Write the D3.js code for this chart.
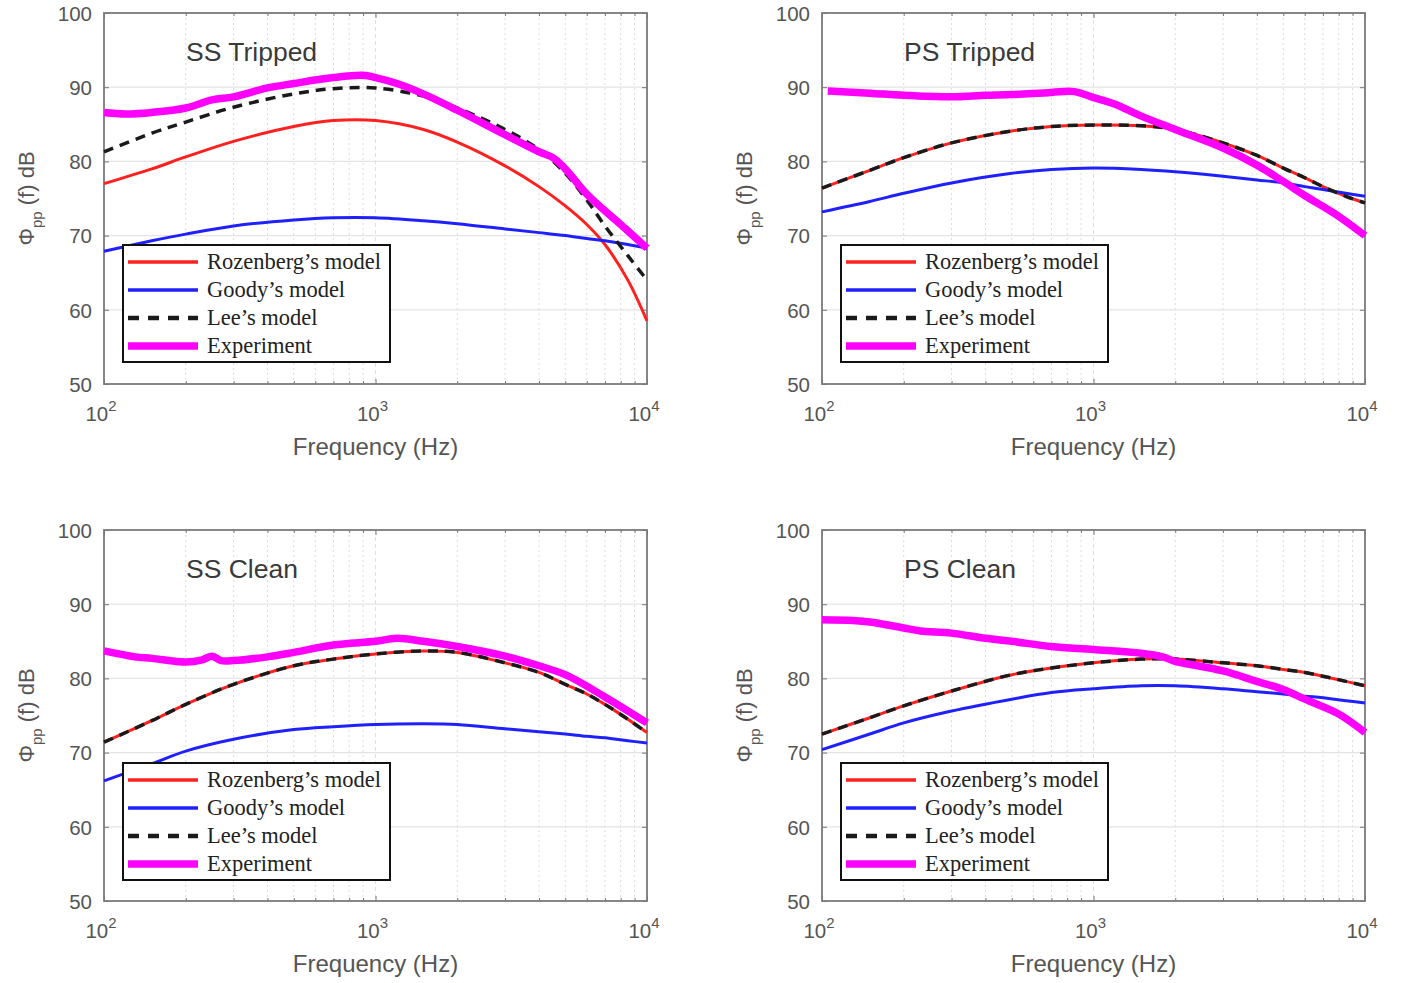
<!DOCTYPE html>
<html><head><meta charset="utf-8">
<script src="https://cdn.jsdelivr.net/npm/d3@7"></script>
<style>body{margin:0;background:#fff}</style>
</head><body><svg id="c" width="1401" height="983"></svg>
<script>
// ---- data ----
const seriesNames = ["Rozenberg’s model", "Goody’s model", "Lee’s model", "Experiment"];
const panelTitles = ["SS Tripped", "PS Tripped", "SS Clean", "PS Clean"];
const yTicks = [50, 60, 70, 80, 90, 100];
const xTicks = [100, 1000, 10000];
const modelFreq = [100,150,200,300,500,700,1000,1500,2000,3000,4000,5000,6000,7000,8500,10000];

const ssTrippedRoz  = [77.0,79.0,80.6,82.7,84.7,85.5,85.5,84.3,82.6,79.4,76.6,74.0,71.5,68.8,64.0,58.5];
const ssTrippedGoody= [67.9,69.3,70.2,71.3,72.1,72.4,72.4,72.0,71.6,70.9,70.4,70.0,69.6,69.3,68.8,68.3];
const ssTrippedLee  = [81.3,83.8,85.3,87.3,89.1,89.8,89.9,88.8,87.2,84.3,81.6,78.4,74.8,71.3,67.3,64.0];
const ssTrippedExpF = [100,120,150,200,250,300,400,500,700,900,1000,1200,1500,2000,3000,4000,4500,5000,6000,8000,10000];
const ssTrippedExp  = [86.6,86.4,86.6,87.2,88.3,88.7,89.9,90.5,91.3,91.6,91.3,90.5,89.1,86.9,83.6,81.3,80.5,79.0,75.6,71.5,68.3];

const psTrippedRoz  = [76.4,78.8,80.5,82.5,84.1,84.7,84.9,84.8,84.3,82.5,80.8,79.1,77.8,76.6,75.3,74.4];
const psTrippedGoody= [73.2,74.6,75.7,77.1,78.4,78.9,79.1,78.9,78.6,78.0,77.5,77.1,76.6,76.2,75.7,75.3];
const psTrippedLee  = [76.4,78.8,80.5,82.5,84.1,84.7,84.9,84.8,84.3,82.5,80.8,79.1,77.8,76.6,75.3,74.4];
const psTrippedExpF = [105,150,200,300,400,500,700,850,1000,1200,1500,2000,3000,4000,5000,6000,8000,10000];
const psTrippedExp  = [89.5,89.2,88.9,88.7,88.9,89.0,89.3,89.4,88.6,87.7,86.1,84.3,81.8,79.5,77.3,75.4,72.6,70.0];

const ssCleanRoz    = [71.4,74.3,76.5,79.2,81.7,82.6,83.3,83.7,83.5,82.1,80.8,79.2,77.9,76.5,74.5,72.7];
const ssCleanGoody  = [66.2,68.5,70.2,71.8,73.1,73.5,73.8,73.9,73.8,73.2,72.8,72.5,72.2,72.0,71.6,71.3];
const ssCleanLee    = [71.4,74.3,76.5,79.2,81.7,82.6,83.3,83.7,83.5,82.1,80.8,79.2,77.9,76.5,74.5,72.7];
const ssCleanExpF   = [100,130,150,200,230,250,270,300,400,500,700,1000,1200,1500,2000,3000,4000,5000,7000,10000];
const ssCleanExp    = [83.7,82.9,82.7,82.2,82.5,83.0,82.4,82.4,82.9,83.5,84.5,85.0,85.4,85.0,84.3,83.0,81.7,80.5,77.5,74.0];

const psCleanRoz    = [72.5,74.7,76.3,78.3,80.5,81.4,82.1,82.6,82.6,82.1,81.7,81.2,80.8,80.3,79.6,79.0];
const psCleanGoody  = [70.4,72.5,74.0,75.6,77.2,78.1,78.6,79.0,79.0,78.6,78.2,77.9,77.6,77.4,77.0,76.7];
const psCleanLee    = [72.5,74.7,76.3,78.3,80.5,81.4,82.1,82.6,82.6,82.1,81.7,81.2,80.8,80.3,79.6,79.0];
const psCleanExpF   = [100,130,150,200,230,300,400,500,700,1000,1500,1800,2000,2500,3000,4000,5000,6000,8000,10000];
const psCleanExp    = [87.9,87.8,87.6,86.8,86.4,86.1,85.4,85.0,84.3,83.9,83.4,82.9,82.3,81.6,81.0,79.6,78.5,77.2,75.2,72.7];

// ---- drawing ----
const svg = d3.select("#c");
const panels = [
  {title: panelTitles[0], x0:104, y0:13, roz:ssTrippedRoz, goody:ssTrippedGoody, lee:ssTrippedLee, expF:ssTrippedExpF, exp:ssTrippedExp},
  {title: panelTitles[1], x0:822, y0:13, roz:psTrippedRoz, goody:psTrippedGoody, lee:psTrippedLee, expF:psTrippedExpF, exp:psTrippedExp},
  {title: panelTitles[2], x0:104, y0:530, roz:ssCleanRoz, goody:ssCleanGoody, lee:ssCleanLee, expF:ssCleanExpF, exp:ssCleanExp},
  {title: panelTitles[3], x0:822, y0:530, roz:psCleanRoz, goody:psCleanGoody, lee:psCleanLee, expF:psCleanExpF, exp:psCleanExp}
];
const W = 543, H = 371;
const SANS = "Liberation Sans, Arial, Helvetica, sans-serif";
const SERIF = "Liberation Serif, Times New Roman, serif";
const styles = [
  {color:"#ff2020", width:3, dash:null},
  {color:"#2020ff", width:3, dash:null},
  {color:"#1a1a1a", width:3.5, dash:"10,7"},
  {color:"#ff00ff", width:7.5, dash:null}
];
const minorTicks = [];
[100,1000].forEach(d => { for (let k=2;k<=9;k++) minorTicks.push(d*k); });

panels.forEach(p => {
  const g = svg.append("g").attr("transform", `translate(${p.x0},${p.y0})`);
  const x = d3.scaleLog().domain([100, 10000]).range([0, W]);
  const y = d3.scaleLinear().domain([50, 100]).range([H, 0]);

  // grid
  g.append("g").selectAll("line").data(minorTicks).join("line")
    .attr("x1", d => x(d)).attr("x2", d => x(d)).attr("y1", 0).attr("y2", H)
    .attr("stroke", "#dcdcdc").attr("stroke-width", 1).attr("stroke-dasharray", "2,3");
  g.append("g").selectAll("line").data([1000]).join("line")
    .attr("x1", d => x(d)).attr("x2", d => x(d)).attr("y1", 0).attr("y2", H)
    .attr("stroke", "#e0e0e0").attr("stroke-width", 1).attr("stroke-dasharray", "4,3");
  g.append("g").selectAll("line").data(yTicks.slice(1, -1)).join("line")
    .attr("x1", 0).attr("x2", W).attr("y1", d => y(d)).attr("y2", d => y(d))
    .attr("stroke", "#e4e4e4").attr("stroke-width", 1.3);

  // axes (ticks inward)
  const ya = g.append("g").call(d3.axisLeft(y).tickValues(yTicks).tickSize(-5).tickPadding(12).tickFormat(d3.format("d")));
  const yb = g.append("g").attr("transform", `translate(${W},0)`).call(d3.axisRight(y).tickValues(yTicks).tickSize(-5).tickFormat(""));
  const xa = g.append("g").attr("transform", `translate(0,${H})`).call(d3.axisBottom(x).tickValues(xTicks).tickSize(-5).tickFormat(""));
  const xa2 = g.append("g").attr("transform", `translate(0,${H})`).call(d3.axisBottom(x).tickValues(minorTicks).tickSize(-3).tickFormat(""));
  const xt = g.append("g").call(d3.axisTop(x).tickValues(xTicks).tickSize(-5).tickFormat(""));
  const xt2 = g.append("g").call(d3.axisTop(x).tickValues(minorTicks).tickSize(-3).tickFormat(""));
  [ya, yb, xa, xa2, xt, xt2].forEach(a => {
    a.select(".domain").remove();
    a.selectAll(".tick line").attr("stroke", "#777").attr("stroke-width", 1);
  });
  ya.selectAll(".tick text").attr("font-family", SANS)
    .attr("font-size", 20.5).attr("fill", "#555").attr("dy", "0.36em");

  // x tick labels with superscript exponent
  xTicks.forEach(t => {
    const e = Math.round(Math.log10(t));
    const tx = g.append("text").attr("x", x(t) - 3).attr("y", H + 37)
      .attr("text-anchor", "middle").attr("font-family", SANS)
      .attr("font-size", 20.5).attr("fill", "#555");
    tx.append("tspan").text("10");
    tx.append("tspan").attr("dy", -10).attr("font-size", 15).text(e);
  });

  // box
  g.append("rect").attr("x", 0).attr("y", 0).attr("width", W).attr("height", H)
    .attr("fill", "none").attr("stroke", "#7a7a7a").attr("stroke-width", 1.8);

  // curves
  const line = d3.line().x(d => x(d[0])).y(d => y(d[1])).curve(d3.curveCatmullRom.alpha(0.5));
  const sets = [
    modelFreq.map((f, i) => [f, p.roz[i]]),
    modelFreq.map((f, i) => [f, p.goody[i]]),
    modelFreq.map((f, i) => [f, p.lee[i]]),
    p.expF.map((f, i) => [f, p.exp[i]])
  ];
  sets.forEach((s, i) => {
    g.append("path").attr("d", line(s)).attr("fill", "none")
      .attr("stroke", styles[i].color).attr("stroke-width", styles[i].width)
      .attr("stroke-dasharray", styles[i].dash).attr("stroke-linejoin", "round");
  });

  // title
  g.append("text").attr("x", 82).attr("y", 48).text(p.title)
    .attr("font-family", SANS).attr("font-size", 26.5).attr("fill", "#3a3a3a");

  // x label
  g.append("text").attr("x", W / 2).attr("y", H + 71).attr("text-anchor", "middle")
    .attr("font-family", SANS).attr("font-size", 24).attr("fill", "#555")
    .text("Frequency (Hz)");

  // y label
  const yl = g.append("text").attr("transform", `translate(-70,${H / 2}) rotate(-90)`)
    .attr("text-anchor", "middle").attr("font-family", SANS)
    .attr("font-size", 22).attr("fill", "#555");
  yl.append("tspan").text("Φ");
  yl.append("tspan").attr("dy", 8).attr("font-size", 15).text("pp");
  yl.append("tspan").attr("dy", -8).text(" (f) dB");

  // legend
  const lg = g.append("g").attr("transform", `translate(19,${p.y0 < 100 ? 232 : 233})`);
  lg.append("rect").attr("x", 0).attr("y", 0).attr("width", 267).attr("height", 117)
    .attr("fill", "#fff").attr("stroke", "#111").attr("stroke-width", 2);
  seriesNames.forEach((n, i) => {
    const ry = 17 + i * 28;
    lg.append("line").attr("x1", 5).attr("x2", 75).attr("y1", ry).attr("y2", ry)
      .attr("stroke", styles[i].color).attr("stroke-width", i === 3 ? 7.5 : (i === 2 ? 4.5 : 3.5))
      .attr("stroke-dasharray", i === 2 ? "11,9" : null);
    lg.append("text").attr("x", 84).attr("y", ry + 7).text(n)
      .attr("font-family", SERIF).attr("font-size", 22.5).attr("fill", "#222");
  });
});
</script></body></html>
